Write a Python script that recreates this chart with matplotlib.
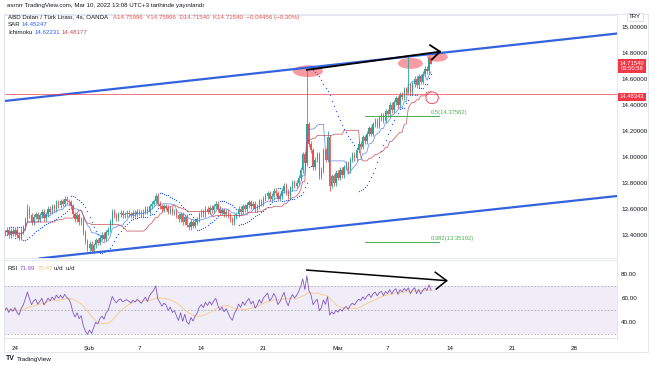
import numpy as np
import pandas as pd
import matplotlib
matplotlib.use("Agg")
import matplotlib.pyplot as plt
from matplotlib.patches import Ellipse, Rectangle

plt.rcParams['font.family'] = ['Liberation Sans', 'DejaVu Sans']

# 4 saatlik kapanislar (grafikten okunan yaklasik degerler), index 0 = 24 Ocak 00:00
start_idx = -5
closes = [
    13.42, 13.44, 13.40, 13.43, 13.41,
    13.44, 13.40, 13.38, 13.43, 13.46, 13.52,
    13.60, 13.55, 13.50, 13.54, 13.56,
    13.52, 13.55, 13.58, 13.53, 13.56, 13.60, 13.58,
    13.62, 13.60, 13.65, 13.63, 13.66, 13.64, 13.68, 13.66, 13.65,
    13.62, 13.56, 13.52, 13.55, 13.50, 13.52,
    13.42, 13.35, 13.30, 13.33, 13.28, 13.32,
    13.36, 13.34, 13.38, 13.40, 13.37, 13.42, 13.44,
    13.50, 13.58, 13.55, 13.53, 13.56, 13.57, 13.55,
    13.56, 13.57, 13.56, 13.55, 13.57, 13.56, 13.58, 13.57, 13.56, 13.58,
    13.60, 13.58, 13.62, 13.64, 13.66, 13.70, 13.64, 13.62,
    13.60, 13.62, 13.61, 13.58, 13.60, 13.57, 13.58, 13.55, 13.52, 13.56,
    13.50, 13.54, 13.48, 13.46, 13.50, 13.47, 13.50, 13.52,
    13.56, 13.58, 13.56, 13.60, 13.58, 13.61, 13.59,
    13.62, 13.64, 13.60, 13.57, 13.59, 13.56, 13.58, 13.55, 13.52,
    13.50, 13.54, 13.56, 13.60, 13.58, 13.62, 13.60, 13.63,
    13.65, 13.62, 13.64, 13.60, 13.62, 13.66, 13.64, 13.68,
    13.70, 13.72, 13.68, 13.70, 13.74, 13.72, 13.68, 13.70,
    13.74, 13.78, 13.73, 13.70, 13.76, 13.80, 13.78,
    13.80, 13.84, 13.90, 14.02, 13.95, 14.25, 14.10, 14.05,
    13.92, 13.98, 14.02, 13.85, 13.90, 14.05, 13.98,
    14.15, 13.78, 13.85, 13.80, 13.88, 13.84,
    13.90, 13.86, 13.92, 13.95, 13.90, 13.98, 14.02, 13.99, 14.05,
    14.10, 14.08, 14.15, 14.12, 14.18, 14.22, 14.18, 14.25,
    14.28, 14.24, 14.30, 14.32, 14.28, 14.35, 14.33,
    14.40, 14.36, 14.42, 14.45, 14.40, 14.48, 14.46, 14.52,
    14.50, 14.55,
    14.50, 14.56, 14.60, 14.55, 14.62, 14.58,
    14.64, 14.68, 14.66, 14.75996, 14.71540,
]
# belirgin fitil tepeleri (bar index -> yuksek / dusuk)
spike_highs = {141: 14.67, 190: 14.78, 6: 13.64, 151: 14.20}
spike_lows = {152: 13.74, 37: 13.26}

# kanal cizgileri (index, fiyat)
upper_channel = [(-5.3, 14.43), (291, 14.95)]
lower_channel = [(12, 13.22), (291, 13.70)]
trend_main = [(141, 14.67), (205.3, 14.81)]
trend_rsi = [(141, 83.3), (208.5, 74.5)]
hline_price = 14.48343
fib_levels = [("0.5(14.37562)", 14.315), ("0.382(13.35192)", 13.346)]

date_ticks = [0, 36, 60, 90, 120, 156, 180, 210, 240, 270]
date_labels = ["24", "Şub", "7", "14", "21", "Mar", "7", "14", "21", "28"]
price_ticks = [13.4, 13.6, 13.8, 14.0, 14.2, 14.4, 14.6, 14.8, 15.0]
rsi_ticks = [40, 60, 80]

GREEN = "#26a69a"
RED = "#ef5350"
BLUE = "#2962ff"
GRAY = "#787b86"

n = len(closes)
idx = np.arange(start_idx, start_idx + n)
c = np.array(closes)
o = np.concatenate([[c[0]], c[:-1]])
wick = 0.02
h = np.maximum(o, c) + wick
l = np.minimum(o, c) - wick
for k, v in spike_highs.items():
    h[k - start_idx] = v
for k, v in spike_lows.items():
    l[k - start_idx] = v
h[-1] = 14.75996
l[-1] = 14.71540

s_h = pd.Series(h)
s_l = pd.Series(l)
tenkan = (s_h.rolling(9, min_periods=1).max() + s_l.rolling(9, min_periods=1).min()) / 2
kijun = (s_h.rolling(26, min_periods=1).max() + s_l.rolling(26, min_periods=1).min()) / 2


def psar(high, low, af0=0.02, afmax=0.2):
    sar = np.zeros(len(high))
    bull = True
    af = af0
    ep = high[0]
    sar[0] = low[0]
    for i in range(1, len(high)):
        s = sar[i - 1] + af * (ep - sar[i - 1])
        if bull:
            s = min(s, low[i - 1], low[max(i - 2, 0)])
            if low[i] < s:
                bull, s, ep, af = False, ep, low[i], af0
            elif high[i] > ep:
                ep, af = high[i], min(af + af0, afmax)
        else:
            s = max(s, high[i - 1], high[max(i - 2, 0)])
            if high[i] > s:
                bull, s, ep, af = True, ep, high[i], af0
            elif low[i] < ep:
                ep, af = low[i], min(af + af0, afmax)
        sar[i] = s
    return sar


def wilder_rsi(close, period=14, seed=0.02):
    avg_up, avg_dn = seed, seed
    out = [50.0]
    for i in range(1, len(close)):
        d = close[i] - close[i - 1]
        avg_up = (avg_up * (period - 1) + max(d, 0)) / period
        avg_dn = (avg_dn * (period - 1) + max(-d, 0)) / period
        out.append(100 - 100 / (1 + avg_up / avg_dn))
    return pd.Series(out)


sar = psar(h, l)
rsi = wilder_rsi(c)
rsi_ma = rsi.rolling(14, min_periods=1).mean()

fig = plt.figure(figsize=(6.54, 3.66), dpi=100)
W, H = 654, 366


def box(x0, y0, x1, y1):
    return [x0 / W, 1 - y1 / H, (x1 - x0) / W, (y1 - y0) / H]


ax = fig.add_axes(box(4, 15, 617, 258))
ax2 = fig.add_axes(box(4, 260, 617, 338), sharex=ax)

# mumlar
cols = np.where(c >= o, GREEN, RED)
ax.vlines(idx, l, h, colors=cols, linewidth=0.6)
ax.bar(idx, np.maximum(np.abs(c - o), 0.004), bottom=np.minimum(o, c), width=0.65,
       color=cols, linewidth=0)

ax.plot(idx, tenkan, color="#4f7ee8", linewidth=0.6, alpha=0.8)
ax.plot(idx, kijun, color="#c2474d", linewidth=0.6, alpha=0.8)
ax.scatter(idx, sar, s=0.9, color=BLUE, linewidths=0)

ax.plot(*zip(*upper_channel), color="#3462dc", linewidth=1.6)
ax.plot(*zip(*lower_channel), color="#3462dc", linewidth=1.6)
ax.axhline(hline_price, color="#f23645", linewidth=0.6, alpha=0.8)
ax.plot(*zip(*trend_main), color="black", linewidth=1.3)
ax.plot([200.5, 205.3, 201.4], [14.86, 14.81, 14.75], color="black", linewidth=1.3)

for x, y, w, hh in [(141.5, 14.66, 14.5, 0.09), (191, 14.72, 12, 0.085), (204, 14.77, 10, 0.075)]:
    ax.add_patch(Ellipse((x, y), w, hh, color="#f23645", alpha=0.5, linewidth=0))
ax.add_patch(Ellipse((201.5, 14.455), 6, 0.09, fill=False, edgecolor="#f23645", linewidth=0.6))

for txt, lvl in fib_levels:
    ax.plot([169, 205], [lvl, lvl], color="#4caf50", linewidth=0.7)
    ax.text(201, lvl + 0.01, txt, fontsize=4.2, color="#4caf50", va="bottom", ha="left")

ax.set_ylim(13.223, 15.092)
ax.set_xlim(-5.3, 290.8)
ax.yaxis.tick_right()
ax.set_yticks(price_ticks)
ax.set_yticklabels([f"{v:.5f}" for v in price_ticks])
ax.tick_params(axis="y", length=0, labelsize=4.5, labelcolor="#131722", pad=3)
ax.tick_params(axis="x", length=0, labelbottom=False)

# RSI paneli
ax2.axhspan(30, 70, color="#7e57c2", alpha=0.1, linewidth=0)
for lv in (30, 50, 70):
    ax2.axhline(lv, color=GRAY, linewidth=0.6, linestyle=(0, (2, 2)), alpha=0.6)
ax2.plot(idx, rsi_ma, color="#f7c67a", linewidth=0.7, alpha=0.8)
ax2.plot(idx, rsi, color="#7e57c2", linewidth=0.6)
ax2.plot(*zip(*trend_rsi), color="black", linewidth=1.1)
ax2.plot([203, 208.5, 203.5], [81.5, 74.5, 67.5], color="black", linewidth=1.1)
ax2.set_ylim(26.7, 91.7)
ax2.yaxis.tick_right()
ax2.set_yticks(rsi_ticks)
ax2.set_yticklabels([f"{v:.2f}" for v in rsi_ticks])
ax2.tick_params(axis="y", length=0, labelsize=4.5, labelcolor="#131722", pad=3)
ax2.set_xticks(date_ticks)
ax2.set_xticklabels(date_labels)
ax2.tick_params(axis="x", length=0, labelsize=4.5, labelcolor="#131722", pad=6)

for a in (ax, ax2):
    for sp in a.spines.values():
        sp.set_color("#e0e3eb")
        sp.set_linewidth(0.6)

# cerceve
fig.add_artist(Rectangle((4 / W, 1 - 352 / H), 644 / W, 338 / H, transform=fig.transFigure,
                         fill=False, edgecolor="#e0e3eb", linewidth=0.6))

# basliklar
fs = 4.4
fig.text(7 / W, 1 - 5 / H, "asrnrr TradingView.com, Mar 10, 2022 13:08 UTC+3 tarihinde yayınlandı",
         fontsize=fs, color="#131722", va="center")
y1 = 1 - 17 / H
fig.text(8 / W, y1, "ABD Doları / Türk Lirası, 4s, OANDA ", fontsize=fs, color="#131722", va="center")
fig.text(113 / W, y1, "A14.75996  Y14.75996  D14.71540  K14.71540  −0.04456 (−0.30%)",
         fontsize=fs, color="#ef5350", va="center")
fig.text(8 / W, 1 - 25 / H, "SAR", fontsize=fs, color="#131722", va="center")
fig.text(22 / W, 1 - 25 / H, "14.45247", fontsize=fs, color=BLUE, va="center")
fig.text(8 / W, 1 - 33 / H, "Ichimoku", fontsize=fs, color="#131722", va="center")
fig.text(35 / W, 1 - 33 / H, "14.62231", fontsize=fs, color=BLUE, va="center")
fig.text(62 / W, 1 - 33 / H, "14.48177", fontsize=fs, color="#c2474d", va="center")
fig.text(8 / W, 1 - 269 / H, "RSI", fontsize=fs, color="#131722", va="center")
fig.text(20 / W, 1 - 269 / H, "71.99", fontsize=fs, color="#7e57c2", va="center")
fig.text(38 / W, 1 - 269 / H, "70.47", fontsize=fs, color="#f7c46c", va="center")
fig.text(54 / W, 1 - 269 / H, "u/d  u/d", fontsize=fs, color="#131722", va="center")

# sag eksen etiketleri
fig.text(635 / W, 1 - 17 / H, "TRY", fontsize=4.4, color="#131722", va="center", ha="center",
         bbox=dict(boxstyle="square,pad=0.25", fc="white", ec="#d1d4dc", lw=0.5))
fig.text(632 / W, 1 - 66 / H, "14.71540\n03:50:58", fontsize=4.2, color="white", va="center",
         ha="center", linespacing=1.0,
         bbox=dict(boxstyle="square,pad=0.3", fc="#f23645", ec="none"))
fig.text(632 / W, 1 - 97 / H, "14.48343", fontsize=4.2, color="white", va="center", ha="center",
         bbox=dict(boxstyle="square,pad=0.3", fc="#f23645", ec="none"))

fig.text(6 / W, 1 - 359 / H, "TV", fontsize=5, color="#131722", va="center", fontweight="bold")
fig.text(17 / W, 1 - 359 / H, "TradingView", fontsize=4.6, color="#131722", va="center")

fig.savefig("out.png", dpi=100)
